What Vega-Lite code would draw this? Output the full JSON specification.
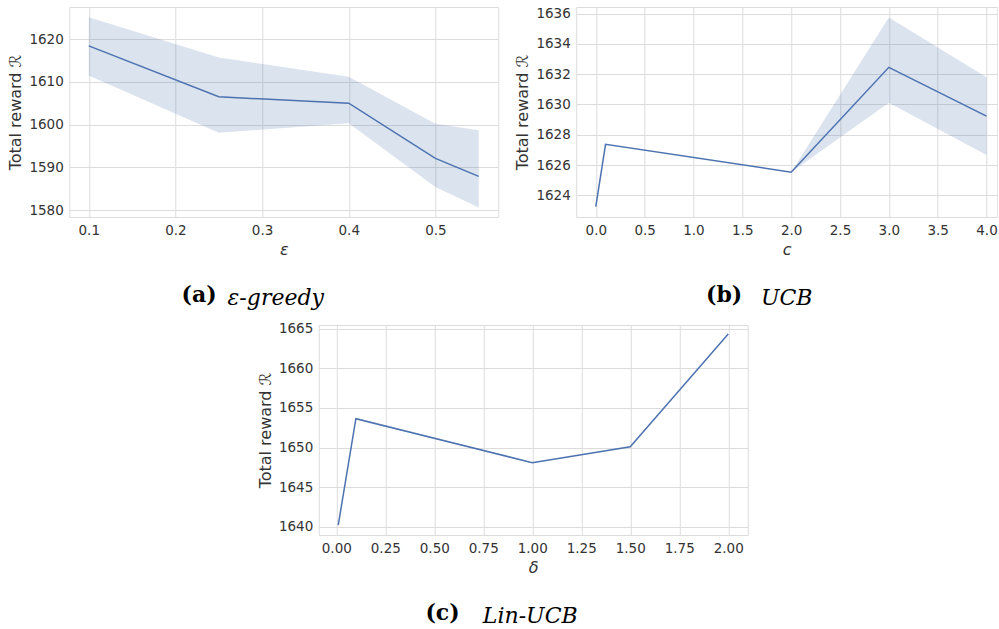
{
  "$schema": "https://vega.github.io/schema/vega-lite/v6.json",
  "background": "white",
  "padding": {"top": 6, "left": 7, "right": 0, "bottom": 0},
  "datasets": {
    "a": [
      {"x": 0.1, "mean": 1618.4, "lo": 1611.5, "hi": 1625.1},
      {"x": 0.25, "mean": 1606.5, "lo": 1598.1, "hi": 1615.7},
      {"x": 0.4, "mean": 1605.0, "lo": 1600.3, "hi": 1611.2},
      {"x": 0.5, "mean": 1592.1, "lo": 1585.4, "hi": 1600.2},
      {"x": 0.55, "mean": 1587.9, "lo": 1580.6, "hi": 1598.7}
    ],
    "b": [
      {"x": 0, "mean": 1623.25, "lo": 1623.25, "hi": 1623.25},
      {"x": 0.1, "mean": 1627.37, "lo": 1627.37, "hi": 1627.37},
      {"x": 2, "mean": 1625.53, "lo": 1625.53, "hi": 1625.53},
      {"x": 3, "mean": 1632.45, "lo": 1630.11, "hi": 1635.74},
      {"x": 4, "mean": 1629.23, "lo": 1626.67, "hi": 1631.8}
    ],
    "c": [
      {"x": 0.01, "mean": 1640.2, "lo": 1640.2, "hi": 1640.2},
      {"x": 0.1, "mean": 1653.64, "lo": 1653.5, "hi": 1653.8},
      {"x": 1, "mean": 1648.08, "lo": 1648.08, "hi": 1648.08},
      {"x": 1.5, "mean": 1650.1, "lo": 1650.1, "hi": 1650.1},
      {"x": 2, "mean": 1664.33, "lo": 1664.33, "hi": 1664.33}
    ]
  },
  "config": {
    "view": {"stroke": "#dcdcdc", "strokeWidth": 1},
    "axis": {
      "domain": false,
      "ticks": false,
      "grid": true,
      "gridColor": "#dcdcdc",
      "gridWidth": 1,
      "labelOverlap": false,
      "labelFont": "DejaVu Sans",
      "labelFontSize": 13.5,
      "labelColor": "#333333",
      "labelPadding": 6,
      "titleFont": "DejaVu Sans",
      "titleFontSize": 16,
      "titleFontWeight": "normal",
      "titleColor": "#333333",
      "titlePadding": 5
    },
    "title": {"font": "DejaVu Serif", "fontSize": 22, "color": "#000000", "anchor": "middle"}
  },
  "vconcat": [
    {
      "hconcat": [
        {
          "title": {"text": "(a)", "orient": "bottom", "fontWeight": "bold", "dx": -54, "offset": -24},
          "vconcat": [
            {
              "width": 429,
              "height": 210,
              "data": {"name": "a"},
              "title": {"text": "ε-greedy", "orient": "bottom", "fontStyle": "italic", "fontWeight": "normal", "dx": -8, "offset": 30},
              "layer": [
                {
                  "mark": {"type": "area", "color": "#4c72b0", "opacity": 0.2},
                  "encoding": {
                    "x": {"field": "x", "type": "quantitative", "scale": {"domain": [0.0775, 0.5725], "nice": false, "zero": false},
                      "axis": {"values": [0.1, 0.2, 0.3, 0.4, 0.5], "format": ".1f", "title": "ε", "titleFontStyle": "italic"}},
                    "y": {"field": "lo", "type": "quantitative", "scale": {"domain": [1578.4, 1627.5], "nice": false, "zero": false},
                      "axis": {"values": [1580, 1590, 1600, 1610, 1620], "format": "d", "title": "Total reward ℛ", "labelOverlap": false}},
                    "y2": {"field": "hi"}
                  }
                },
                {
                  "mark": {"type": "line", "color": "#4c72b0", "strokeWidth": 1.5},
                  "encoding": {
                    "x": {"field": "x", "type": "quantitative"},
                    "y": {"field": "mean", "type": "quantitative"}
                  }
                }
              ]
            }
          ]
        },
        {
          "title": {"text": "(b)", "orient": "bottom", "fontWeight": "bold", "dx": -32, "offset": -24},
          "vconcat": [
            {
              "width": 421,
              "height": 210,
              "data": {"name": "b"},
              "title": {"text": "UCB", "orient": "bottom", "fontStyle": "italic", "fontWeight": "normal", "dx": 0, "offset": 30},
              "layer": [
                {
                  "mark": {"type": "area", "color": "#4c72b0", "opacity": 0.2},
                  "encoding": {
                    "x": {"field": "x", "type": "quantitative", "scale": {"domain": [-0.2, 4.11], "nice": false, "zero": false},
                      "axis": {"values": [0, 0.5, 1, 1.5, 2, 2.5, 3, 3.5, 4], "format": ".1f", "title": "c", "titleFontStyle": "italic", "labelOverlap": false}},
                    "y": {"field": "lo", "type": "quantitative", "scale": {"domain": [1622.57, 1636.43], "nice": false, "zero": false},
                      "axis": {"values": [1624, 1626, 1628, 1630, 1632, 1634, 1636], "format": "d", "title": "Total reward ℛ", "labelOverlap": false, "tickCount": 7}},
                    "y2": {"field": "hi"}
                  }
                },
                {
                  "mark": {"type": "line", "color": "#4c72b0", "strokeWidth": 1.5},
                  "encoding": {
                    "x": {"field": "x", "type": "quantitative"},
                    "y": {"field": "mean", "type": "quantitative"}
                  }
                }
              ]
            }
          ]
        }
      ],
      "spacing": 15
    },
    {
      "title": {"text": "(c)", "orient": "bottom", "fontWeight": "bold", "dx": -60, "offset": -24},
      "vconcat": [
        {
          "width": 429,
          "height": 210,
          "data": {"name": "c"},
          "title": {"text": "Lin-UCB", "orient": "bottom", "fontStyle": "italic", "fontWeight": "normal", "dx": -3, "offset": 30},
          "layer": [
            {
              "mark": {"type": "area", "color": "#4c72b0", "opacity": 0.2},
              "encoding": {
                "x": {"field": "x", "type": "quantitative", "scale": {"domain": [-0.0895, 2.0995], "nice": false, "zero": false},
                  "axis": {"values": [0, 0.25, 0.5, 0.75, 1, 1.25, 1.5, 1.75, 2], "format": ".2f", "title": "δ", "titleFontStyle": "italic"}},
                "y": {"field": "lo", "type": "quantitative", "scale": {"domain": [1638.95, 1665.47], "nice": false, "zero": false},
                  "axis": {"values": [1640, 1645, 1650, 1655, 1660, 1665], "format": "d", "title": "Total reward ℛ"}},
                "y2": {"field": "hi"}
              }
            },
            {
              "mark": {"type": "line", "color": "#4c72b0", "strokeWidth": 1.5},
              "encoding": {
                "x": {"field": "x", "type": "quantitative"},
                "y": {"field": "mean", "type": "quantitative"}
              }
            }
          ]
        }
      ]
    }
  ],
  "spacing": 12,
  "center": true
}
